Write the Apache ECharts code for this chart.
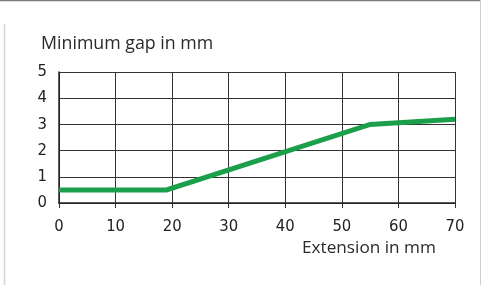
<html>
<head>
<meta charset="utf-8">
<script src="https://cdn.jsdelivr.net/npm/echarts@6/dist/echarts.min.js"></script>
<style>
  body { margin: 0; padding: 0; background: #fff; }
  #main { width: 483px; height: 285px; }
</style>
</head>
<body>
<div id="main"></div>
<script type="text/javascript">
// 曲线数据: 伸长量(mm) -> 最小间隙(mm)
var extension = [0, 19, 55, 70];
var minGap = [0.5, 0.5, 3.0, 3.2];
var xTicks = [0, 10, 20, 30, 40, 50, 60, 70];
var yTicks = [0, 1, 2, 3, 4, 5];

var points = [];
for (var i = 0; i < extension.length; i++) {
    points.push([extension[i], minGap[i]]);
}

// 刻度数字用窄体
var numFont = '"DejaVu Sans Condensed"';
var textFont = '"Open Sans", "Noto Sans", sans-serif';

var myChart = echarts.init(document.getElementById('main'), null, { renderer: 'canvas' });
myChart.setOption({
    animation: false,
    grid: { left: 59, right: 28, top: 72, bottom: 82 },
    xAxis: {
        type: 'value',
        min: xTicks[0],
        max: xTicks[xTicks.length - 1],
        interval: 10,
        axisLine: { show: true, onZero: false, lineStyle: { color: '#222', width: 1.5 } },
        axisTick: { show: true, length: 5, lineStyle: { color: '#333' } },
        splitLine: { show: true, lineStyle: { color: '#333', width: 1 } },
        axisLabel: { color: '#222', fontFamily: numFont, fontSize: 16.5, margin: 15 }
    },
    yAxis: {
        type: 'value',
        min: yTicks[0],
        max: yTicks[yTicks.length - 1],
        interval: 1,
        axisLine: { show: true, lineStyle: { color: '#222', width: 1.5 } },
        axisTick: { show: false },
        splitLine: { show: true, lineStyle: { color: '#333', width: 1 } },
        axisLabel: { color: '#222', fontFamily: numFont, fontSize: 16.5, margin: 12, padding: [0, 0, 6, 0] }
    },
    series: [{
        type: 'line',
        data: points,
        symbol: 'none',
        lineStyle: { color: '#1c9f4a', width: 5, cap: 'butt', join: 'miter' }
    }],
    graphic: [
        // 外框线
        { type: 'line', shape: { x1: 0, y1: 0.5, x2: 481, y2: 0.5 }, style: { stroke: '#7a7a7a', lineWidth: 1.5 } },
        { type: 'line', shape: { x1: 480.5, y1: 0, x2: 480.5, y2: 285 }, style: { stroke: '#cfcfcf', lineWidth: 1 } },
        { type: 'line', shape: { x1: 4.5, y1: 24, x2: 4.5, y2: 285 }, style: { stroke: '#d6d6d6', lineWidth: 1.5 } },
        // 坐标轴标题
        { type: 'text', left: 41, top: 35, style: { text: 'Minimum gap in mm', fill: '#2a2a2a', font: '17.8px ' + textFont } },
        { type: 'text', left: 302, top: 240, style: { text: 'Extension in mm', fill: '#2a2a2a', font: '17.2px ' + textFont } }
    ]
});
</script>
</body>
</html>
